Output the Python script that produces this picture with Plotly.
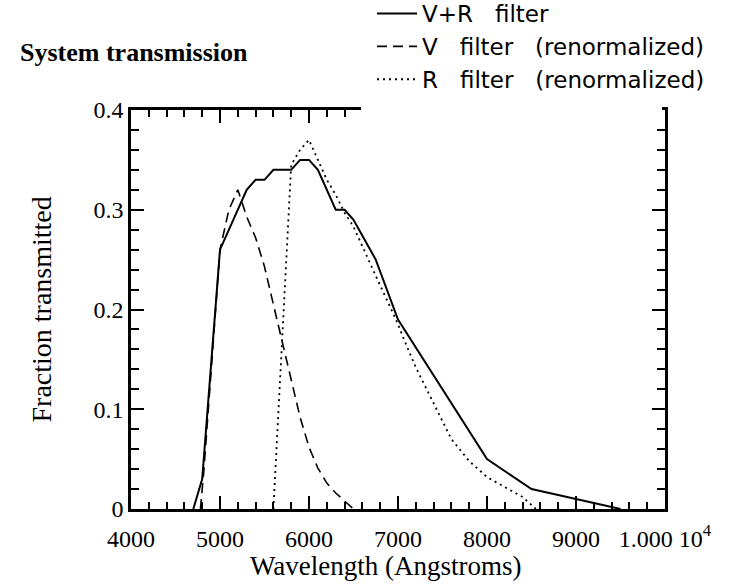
import plotly.graph_objects as go

# Combined V+R filter system transmission
vr_wave = [4700, 4800, 5000, 5300, 5400, 5500, 5600, 5800, 5900, 6000, 6100,
           6300, 6400, 6500, 6750, 7000, 8000, 8500, 9000, 9500]
vr_frac = [0.0, 0.03, 0.26, 0.32, 0.33, 0.33, 0.34, 0.34, 0.35, 0.35, 0.34,
           0.30, 0.30, 0.29, 0.25, 0.19, 0.05, 0.02, 0.01, 0.0]

# V filter (renormalized)
v_wave = [4780, 4820, 5000, 5100, 5200, 5300, 5400, 5500, 5600, 5700, 5800,
          5900, 6000, 6100, 6200, 6300, 6400, 6500]
v_frac = [0.0, 0.04, 0.26, 0.30, 0.32, 0.293, 0.272, 0.243, 0.205, 0.168, 0.128,
          0.092, 0.062, 0.041, 0.026, 0.016, 0.008, 0.0]

# R filter (renormalized)
r_wave = [5600, 5700, 5800, 5900, 6000, 6100, 6200, 6300, 6400, 6500, 6600,
          6700, 6800, 6900, 7000, 7100, 7200, 7400, 7600, 7800, 8000, 8200,
          8400, 8550]
r_frac = [0.0, 0.18, 0.345, 0.36, 0.37, 0.35, 0.33, 0.315, 0.297, 0.283, 0.263,
          0.243, 0.224, 0.205, 0.185, 0.163, 0.142, 0.106, 0.07, 0.048, 0.032,
          0.022, 0.012, 0.0]

x_tickvals = [4000, 5000, 6000, 7000, 8000, 9000, 10000]
x_ticktext = ["4000", "5000", "6000", "7000", "8000", "9000", "1.000 10<sup>4</sup>"]
y_tickvals = [0, 0.1, 0.2, 0.3, 0.4]
y_ticktext = ["0", "0.1", "0.2", "0.3", "0.4"]

# minor tick positions: every 200 A and every 0.02
x_minor = [4000 + 200 * i for i in range(31)]
y_minor = [round(0.02 * i, 2) for i in range(21)]

SERIF = "Liberation Serif"
SANS = "DejaVu Sans"
SP = "\u00a0\u00a0\u00a0"

fig = go.Figure()
fig.add_trace(go.Scatter(x=vr_wave, y=vr_frac, mode="lines",
                         name="V+R" + SP + "filter",
                         line=dict(color="black", width=2)))
fig.add_trace(go.Scatter(x=v_wave, y=v_frac, mode="lines",
                         name="V" + SP + "filter" + SP + "(renormalized)",
                         line=dict(color="black", width=1.6, dash="10px,6px")))
fig.add_trace(go.Scatter(x=r_wave, y=r_frac, mode="lines",
                         name="R" + SP + "filter" + SP + "(renormalized)",
                         line=dict(color="black", width=1.8, dash="2px,4px")))

axis_common = dict(
    showline=True, linecolor="black", linewidth=2.5, mirror="ticks",
    ticks="inside", ticklen=13, tickwidth=2, tickcolor="black",
    showgrid=False, zeroline=False, automargin=False,
)

fig.update_xaxes(
    **axis_common,
    range=[4000, 10000], tickmode="array",
    tickvals=x_tickvals, ticktext=x_ticktext,
    tickfont=dict(family=SERIF, size=24, color="black"),
    ticklabelstandoff=6,
    minor=dict(tickmode="array", tickvals=x_minor, ticks="inside",
               ticklen=7, tickwidth=1.5, tickcolor="black"),
)
fig.update_yaxes(
    **axis_common,
    range=[0, 0.4], tickmode="array",
    tickvals=y_tickvals, ticktext=y_ticktext,
    tickfont=dict(family=SERIF, size=24, color="black"),
    minor=dict(tickmode="array", tickvals=y_minor, ticks="inside",
               ticklen=8, tickwidth=1.5, tickcolor="black"),
)

# axis titles
fig.add_annotation(text="Wavelength (Angstroms)", xref="paper", yref="paper",
                   x=(386 - 131) / 534, y=(509 - 566) / 399,
                   xanchor="center", yanchor="middle", showarrow=False,
                   font=dict(family=SERIF, size=27, color="black"))
fig.add_annotation(text="Fraction transmitted", xref="paper", yref="paper",
                   x=(41 - 131) / 534, y=0.5, textangle=-90,
                   xanchor="center", yanchor="middle", showarrow=False,
                   font=dict(family=SERIF, size=28, color="black"))

# white panel behind the key, hiding that stretch of the top frame
fig.add_shape(type="rect", xref="paper", yref="paper",
              x0=(361 - 131) / 534, x1=(662 - 131) / 534,
              y0=(509 - 126) / 399, y1=(509 - 90) / 399,
              fillcolor="white", line=dict(width=0), layer="above")

fig.update_layout(
    width=747, height=586,
    margin=dict(l=131, r=82, t=110, b=77, autoexpand=False),
    paper_bgcolor="white", plot_bgcolor="white",
    title=dict(text="<b>System transmission</b>",
               x=20 / 747, xanchor="left", y=1 - 52 / 586, yanchor="middle",
               font=dict(family=SERIF, size=26, color="black")),
    showlegend=True,
    legend=dict(x=(372 - 131) / 534, y=(509 + 8) / 399,
                xanchor="left", yanchor="top", bgcolor="white",
                borderwidth=0, itemwidth=40,
                font=dict(family=SANS, size=23, color="black")),
)

fig.write_html("out.html")
